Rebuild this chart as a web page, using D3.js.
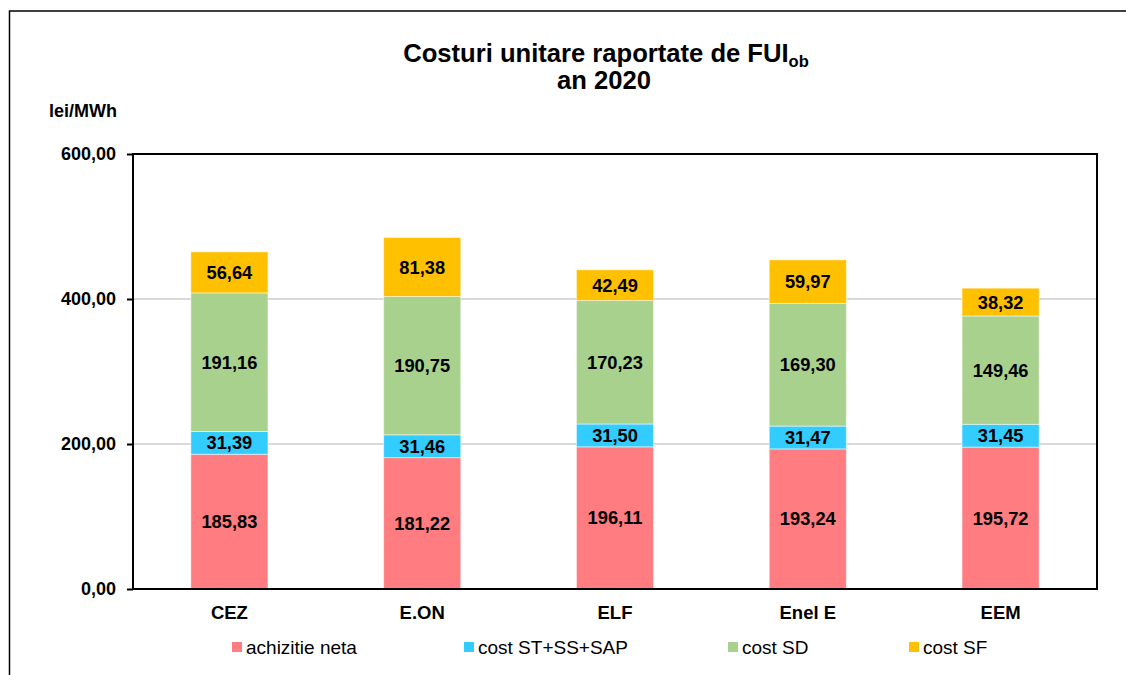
<!DOCTYPE html>
<html><head><meta charset="utf-8">
<script src="https://cdn.jsdelivr.net/npm/d3@7"></script>
<style>body{margin:0;background:#fff}svg{display:block;font-family:Arial,"Liberation Sans",sans-serif}</style>
</head><body>
<svg id="c" width="1126" height="675"></svg>
<script>
const categories = ["CEZ","E.ON","ELF","Enel E","EEM"];
const seriesNames = ["achizitie neta","cost ST+SS+SAP","cost SD","cost SF"];
const achizitieNeta = [185.83,181.22,196.11,193.24,195.72];
const costST = [31.39,31.46,31.50,31.47,31.45];
const costSD = [191.16,190.75,170.23,169.30,149.46];
const costSF = [56.64,81.38,42.49,59.97,38.32];
const yTicks = [0,200,400,600];
const colors = ["#FF7C80","#33CCFF","#A9D18E","#FFC000"];

const seriesVals = [achizitieNeta,costST,costSD,costSF];
const rows = categories.map((c,i)=>{const r={cat:c};seriesNames.forEach((s,j)=>r[s]=seriesVals[j][i]);return r;});
const stacked = d3.stack().keys(seriesNames)(rows);

const svg = d3.select("#c");
const L=133,R=1097,T=154,B=589;
const x = d3.scaleBand().domain(categories).range([L,R]).paddingInner(0.6).paddingOuter(0.3);
const y = d3.scaleLinear().domain([0,600]).range([B,T]);
const fmt = v => d3.format(".2f")(v).replace(".",",");

// outer border (left + top)
svg.append("path").attr("d","M9.5,675 L9.5,11 L1126,11").attr("fill","none").attr("stroke","#000").attr("stroke-width",1.5);

// title
const t1 = svg.append("text").attr("x",606).attr("y",62).attr("text-anchor","middle").attr("font-weight","bold").attr("font-size",25.6);
t1.append("tspan").text("Costuri unitare raportate de FUI");
t1.append("tspan").attr("font-size",16.5).attr("dy",5).text("ob");
svg.append("text").attr("x",604).attr("y",89).attr("text-anchor","middle").attr("font-weight","bold").attr("font-size",25.6).text("an 2020");

svg.append("text").attr("x",49).attr("y",117).attr("font-weight","bold").attr("font-size",18).text("lei/MWh");

// grid
svg.append("g").selectAll("line").data(yTicks.filter(v=>v>0&&v<600)).join("line")
  .attr("x1",L).attr("x2",R).attr("y1",d=>y(d)).attr("y2",d=>y(d))
  .attr("stroke","#d9d9d9").attr("stroke-width",2);

// y axis
const yAxis = svg.append("g").attr("transform",`translate(${L},0)`)
  .call(d3.axisLeft(y).tickValues(yTicks).tickFormat(fmt).tickSize(6).tickPadding(11));
yAxis.select(".domain").remove();
yAxis.selectAll("line").attr("stroke","#000").attr("stroke-width",2);
yAxis.selectAll("text").attr("font-size",18).attr("font-weight","bold").attr("font-family","Arial,'Liberation Sans',sans-serif").attr("fill","#000");

// bars
const g = svg.append("g");
stacked.forEach((s,j)=>{
  g.append("g").selectAll("rect").data(s).join("rect")
    .attr("x",d=>x(d.data.cat)).attr("width",x.bandwidth())
    .attr("y",d=>y(d[1])).attr("height",d=>y(d[0])-y(d[1]))
    .attr("fill",colors[j]).attr("stroke","#fff").attr("stroke-opacity",0.5).attr("stroke-width",1);
  g.append("g").selectAll("text").data(s).join("text")
    .attr("x",d=>x(d.data.cat)+x.bandwidth()/2).attr("y",d=>(y(d[0])+y(d[1]))/2+6.5)
    .attr("text-anchor","middle").attr("font-weight","bold").attr("font-size",18.3)
    .text(d=>fmt(d[1]-d[0]));
});

// frame
svg.append("rect").attr("x",L).attr("y",T).attr("width",R-L).attr("height",B-T)
  .attr("fill","none").attr("stroke","#000").attr("stroke-width",2);

// x labels
const xAxis = svg.append("g").attr("transform",`translate(0,${B})`)
  .call(d3.axisBottom(x).tickSize(0).tickPadding(17));
xAxis.select(".domain").remove();
xAxis.selectAll("text").attr("font-size",18.5).attr("font-weight","bold").attr("font-family","Arial,'Liberation Sans',sans-serif").attr("fill","#000");

// legend
const legX = [232,464,728,909];
const leg = svg.append("g").selectAll("g").data(seriesNames).join("g")
  .attr("transform",(d,i)=>`translate(${legX[i]},642)`);
leg.append("rect").attr("width",10).attr("height",10).attr("fill",(d,i)=>colors[i]);
leg.append("text").attr("x",14).attr("y",12).attr("font-size",19).text(d=>d);
</script>
</body></html>
